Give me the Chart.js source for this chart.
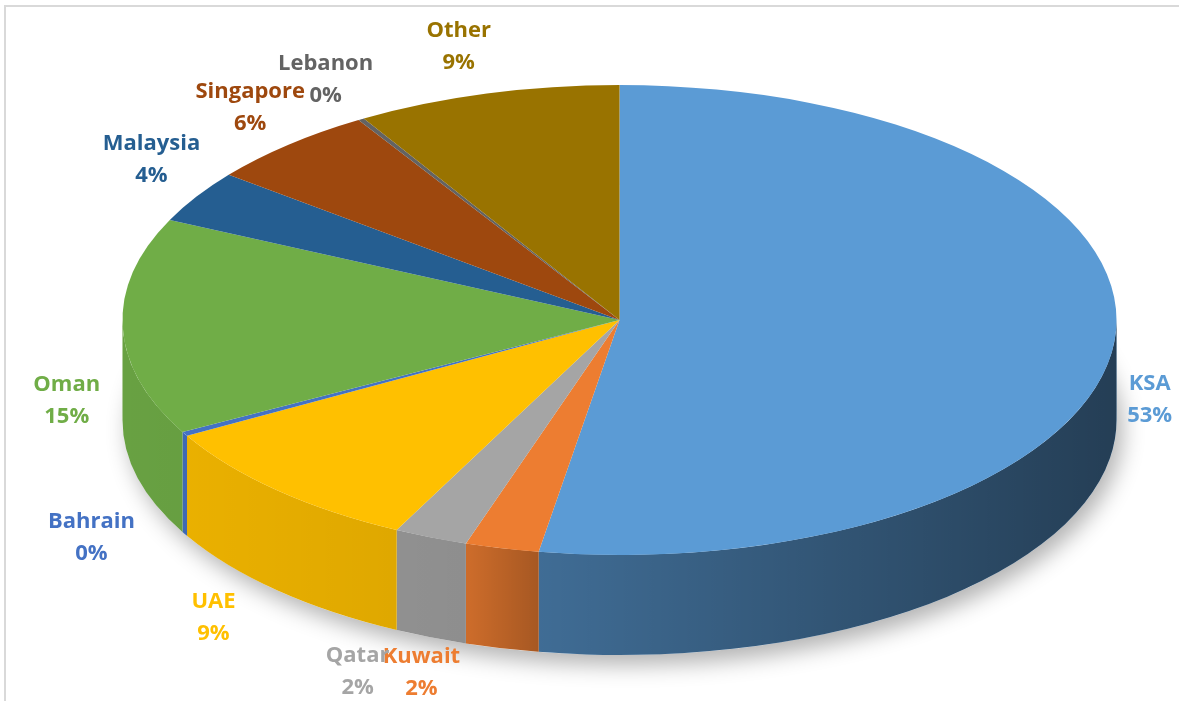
<!DOCTYPE html>
<html>
<head>
<meta charset="utf-8">
<script src="https://cdn.jsdelivr.net/npm/chart.js@4.4.0/dist/chart.umd.min.js"></script>
<style>
  html, body { margin: 0; padding: 0; background: #fff; }
  canvas { display: block; }
</style>
</head>
<body>
<canvas id="pie" width="1179" height="701"></canvas>
<script>
// DATA
const countries = ["KSA", "Kuwait", "Qatar", "UAE", "Bahrain", "Oman", "Malaysia", "Singapore", "Lebanon", "Other"];
const shares = [52.6, 2.4, 2.4, 9.4, 0.3, 14.9, 3.6, 5.6, 0.2, 8.6];
const colors = ["#5B9BD5", "#ED7D31", "#A5A5A5", "#FFC000", "#4472C4", "#70AD47", "#255E91", "#9E480E", "#636363", "#997300"];

// GEOMETRIA DO DISCO (ecrã)
const CX = 619.5, CY = 320, RX = 497, RY = 235, DEPTH = 100;

// pequenos acertos das etiquetas (px)
const labelNudge = {
  KSA: [-18, 2], Kuwait: [-68, -28], Qatar: [-53, -13], UAE: [-27, 1], Bahrain: [-47, 3],
  Oman: [-3, 21], Malaysia: [0, -32], Singapore: [-3, -9], Lebanon: [-8, 0], Other: [-14, 4],
};

function arcInfo(chart) {
  const arcs = chart.getDatasetMeta(0).data;
  const a0 = arcs[0];
  return { arcs, cx: a0.x, cy: a0.y, r: a0.outerRadius };
}

// moldura cinzenta
const framePlugin = {
  id: "frame",
  beforeDraw(chart) {
    const ctx = chart.ctx;
    ctx.save();
    ctx.fillStyle = "#fff";
    ctx.fillRect(0, 0, chart.width, chart.height);
    ctx.strokeStyle = "#d9d9d9";
    ctx.lineWidth = 2;
    ctx.strokeRect(5, 6, 1300, 800);
    ctx.restore();
  },
};

// 3D: sombra + paredes laterais + achatamento
const pie3d = {
  id: "pie3d",
  beforeDatasetsDraw(chart) {
    const ctx = chart.ctx;
    const { arcs, cx, cy, r } = arcInfo(chart);

    // sombra por baixo
    ctx.save();
    ctx.shadowColor = "rgba(0,0,0,0.3)";
    ctx.shadowBlur = 22;
    ctx.shadowOffsetX = 6;
    ctx.shadowOffsetY = 10;
    ctx.fillStyle = "#fff";
    ctx.beginPath();
    ctx.ellipse(CX, CY + DEPTH, RX, RY, 0, 0, Math.PI * 2);
    ctx.fill();
    ctx.restore();

    // paredes da frente (angulos 0..PI)
    const shade = ctx.createLinearGradient(CX - RX, 0, CX + RX, 0);
    shade.addColorStop(0, "rgba(0,0,0,0.07)");
    shade.addColorStop(0.35, "rgba(0,0,0,0.14)");
    shade.addColorStop(0.42, "rgba(0,0,0,0.3)");
    shade.addColorStop(1, "rgba(0,0,0,0.6)");
    arcs.forEach((arc, i) => {
      const a = Math.max(arc.startAngle, 0);
      const b = Math.min(arc.endAngle, Math.PI);
      if (b <= a) return;
      ctx.save();
      ctx.beginPath();
      ctx.ellipse(CX, CY, RX, RY, 0, a, b);
      ctx.ellipse(CX, CY + DEPTH, RX, RY, 0, b, a, true);
      ctx.closePath();
      ctx.fillStyle = colors[i];
      ctx.fill();
      ctx.fillStyle = shade;
      ctx.fill();
      ctx.restore();
    });

    // achata o disco do Chart.js para elipse
    ctx.save();
    ctx.translate(CX, CY);
    ctx.scale(RX / r, RY / r);
    ctx.translate(-cx, -cy);
  },
  afterDatasetsDraw(chart) {
    chart.ctx.restore();
  },
  afterDraw(chart) {
    const ctx = chart.ctx;
    const { arcs } = arcInfo(chart);
    const total = shares.reduce((s, v) => s + v, 0);
    ctx.save();
    ctx.font = "bold 22px 'Open Sans', sans-serif";
    ctx.textAlign = "center";
    ctx.textBaseline = "middle";
    arcs.forEach((arc, i) => {
      const m = (arc.startAngle + arc.endAngle) / 2;
      const n = labelNudge[countries[i]] || [0, 0];
      const x = CX + (RX + 53) * Math.cos(m) + n[0];
      const y = CY + DEPTH / 2 + (RY + 105) * Math.sin(m) + n[1];
      ctx.fillStyle = colors[i];
      ctx.fillText(countries[i], x, y - 16);
      ctx.fillText(Math.round((shares[i] * 100) / total) + "%", x, y + 16);
    });
    ctx.restore();
  },
};

new Chart(document.getElementById("pie"), {
  type: "pie",
  data: {
    labels: countries,
    datasets: [{ data: shares, backgroundColor: colors, borderWidth: 0, clip: false }],
  },
  options: {
    responsive: false,
    animation: false,
    devicePixelRatio: 1,
    layout: { padding: 20 },
    plugins: { legend: { display: false }, tooltip: { enabled: false } },
  },
  plugins: [framePlugin, pie3d],
});
</script>
</body>
</html>
